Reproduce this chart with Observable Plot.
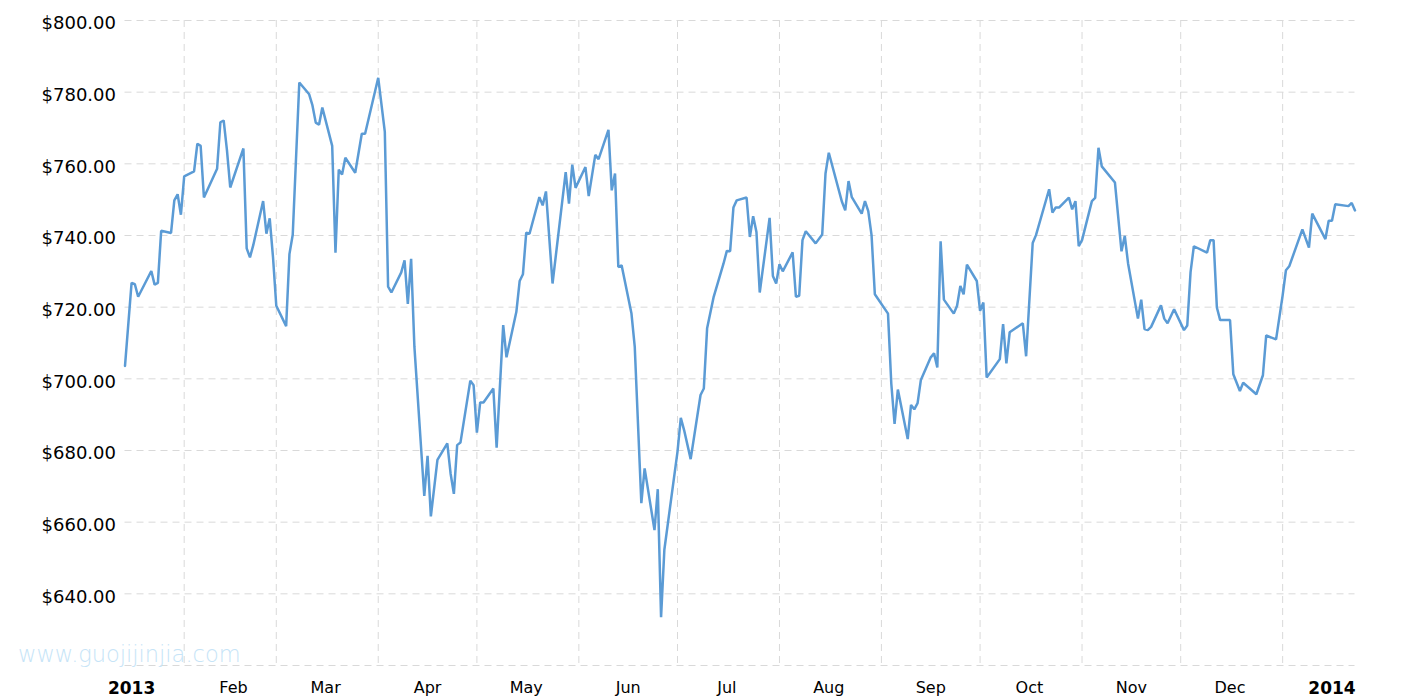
<!DOCTYPE html>
<html><head><meta charset="utf-8">
<script src="https://cdn.jsdelivr.net/npm/d3@7"></script>
<script src="https://cdn.jsdelivr.net/npm/@observablehq/plot@0.6"></script>
<style>html,body{margin:0;padding:0;background:#fff}#chart svg{display:block}</style>
</head><body><div id="chart"></div>
<script>
const dates = [
"2013-01-14","2013-01-16","2013-01-17","2013-01-18","2013-01-22","2013-01-23","2013-01-24","2013-01-25","2013-01-28","2013-01-29","2013-01-30","2013-01-31",
"2013-02-01","2013-02-04","2013-02-05","2013-02-06","2013-02-07","2013-02-11","2013-02-12","2013-02-13","2013-02-14","2013-02-15","2013-02-19","2013-02-20","2013-02-21","2013-02-22","2013-02-25","2013-02-26","2013-02-27","2013-02-28",
"2013-03-01","2013-03-04","2013-03-05","2013-03-06","2013-03-08","2013-03-11","2013-03-12","2013-03-13","2013-03-14","2013-03-15","2013-03-18","2013-03-19","2013-03-20","2013-03-21","2013-03-22","2013-03-25","2013-03-27","2013-03-28",
"2013-04-01","2013-04-03","2013-04-04","2013-04-05","2013-04-08","2013-04-09","2013-04-10","2013-04-11","2013-04-12","2013-04-15","2013-04-16","2013-04-17","2013-04-19","2013-04-22","2013-04-23","2013-04-24","2013-04-25","2013-04-26","2013-04-29","2013-04-30",
"2013-05-01","2013-05-02","2013-05-03","2013-05-06","2013-05-07","2013-05-09","2013-05-10","2013-05-13","2013-05-14","2013-05-15","2013-05-16","2013-05-17","2013-05-20","2013-05-21","2013-05-22","2013-05-24","2013-05-28","2013-05-29","2013-05-30","2013-05-31",
"2013-06-03","2013-06-04","2013-06-06","2013-06-07","2013-06-10","2013-06-11","2013-06-12","2013-06-13","2013-06-14","2013-06-17","2013-06-18","2013-06-20","2013-06-21","2013-06-24","2013-06-25","2013-06-26","2013-06-27",
"2013-07-01","2013-07-02","2013-07-03","2013-07-05","2013-07-08","2013-07-09","2013-07-10","2013-07-12","2013-07-15","2013-07-16","2013-07-17","2013-07-18","2013-07-19","2013-07-22","2013-07-23","2013-07-24","2013-07-25","2013-07-26","2013-07-29","2013-07-30","2013-07-31",
"2013-08-01","2013-08-02","2013-08-05","2013-08-06","2013-08-07","2013-08-08","2013-08-09","2013-08-12","2013-08-14","2013-08-15","2013-08-16","2013-08-20","2013-08-21","2013-08-22","2013-08-23","2013-08-26","2013-08-27","2013-08-28","2013-08-29","2013-08-30",
"2013-09-03","2013-09-04","2013-09-05","2013-09-06","2013-09-09","2013-09-10","2013-09-11","2013-09-12","2013-09-13","2013-09-16","2013-09-17","2013-09-18","2013-09-19","2013-09-20","2013-09-23","2013-09-24","2013-09-25","2013-09-26","2013-09-27","2013-09-30",
"2013-10-01","2013-10-02","2013-10-03","2013-10-07","2013-10-08","2013-10-09","2013-10-10","2013-10-14","2013-10-15","2013-10-17","2013-10-18","2013-10-22","2013-10-23","2013-10-24","2013-10-25","2013-10-28","2013-10-29","2013-10-30","2013-10-31",
"2013-11-01","2013-11-04","2013-11-05","2013-11-06","2013-11-07","2013-11-11","2013-11-13","2013-11-14","2013-11-15","2013-11-18","2013-11-19","2013-11-20","2013-11-21","2013-11-22","2013-11-25","2013-11-26","2013-11-27","2013-11-29",
"2013-12-02","2013-12-03","2013-12-04","2013-12-05","2013-12-09","2013-12-10","2013-12-11","2013-12-12","2013-12-13","2013-12-16","2013-12-17","2013-12-19","2013-12-20","2013-12-24","2013-12-26","2013-12-27","2013-12-30",
"2014-01-01","2014-01-02","2014-01-03","2014-01-07","2014-01-09","2014-01-10","2014-01-14","2014-01-15","2014-01-16","2014-01-17","2014-01-21","2014-01-22","2014-01-23"
];
const prices = [
703.6,726.8,726.4,722.9,730.1,726.3,726.8,741.3,740.7,749.8,751.5,745.8,
756.5,757.9,765.6,765.0,750.6,758.6,771.6,772.1,763.8,753.4,764.3,736.4,733.9,737.3,749.6,740.5,744.8,734.0,
720.4,714.7,734.8,740.2,782.7,779.4,776.3,771.5,770.9,775.7,765.0,735.2,758.4,757.0,761.7,757.5,768.4,768.4,
784.0,768.9,725.7,724.1,729.7,733.1,720.9,733.5,708.9,667.3,678.5,661.6,677.4,682.0,673.6,667.9,681.5,682.2,699.5,698.2,
685.0,693.4,693.4,697.3,680.8,715.0,706.0,718.7,727.3,729.2,740.8,740.5,750.7,748.4,752.3,726.6,757.7,748.9,759.8,753.3,
759.1,751.0,762.5,761.3,769.5,752.6,757.3,731.2,731.7,718.2,708.9,665.3,675.0,657.8,669.2,633.5,652.3,
679.7,689.1,685.7,677.6,695.5,697.3,714.1,722.9,732.2,735.7,735.6,747.8,749.8,750.6,739.6,745.4,741.0,724.1,744.9,728.7,726.6,
732.0,730.0,735.3,722.9,723.2,738.7,741.2,737.8,740.3,757.3,763.1,749.4,747.0,755.2,750.7,746.1,749.6,746.8,740.1,723.6,
718.2,698.7,687.4,697.0,683.2,692.7,691.5,693.2,699.7,706.0,707.1,703.2,738.4,722.1,718.2,720.4,725.9,723.6,731.9,727.3,
719.0,721.3,700.4,705.5,715.3,704.3,713.0,715.5,706.3,737.9,740.1,752.9,746.4,747.8,747.8,750.6,747.3,749.6,737.0,
738.7,749.6,750.5,764.5,759.3,754.8,735.6,739.9,732.2,716.8,722.1,713.9,713.6,714.5,720.5,716.8,715.5,719.4,
713.6,714.9,729.8,737.0,735.2,738.7,738.7,719.9,716.4,716.4,701.3,696.6,698.9,695.7,701.0,712.1,711.0,
723.3,730.3,731.4,741.7,736.6,746.1,739.0,744.1,744.1,748.7,748.2,749.1,747.0
];
const yTicks = [640, 660, 680, 700, 720, 740, 760, 780, 800];
const yGrid = [620, 640, 660, 680, 700, 720, 740, 760, 780, 800];
const monthStarts = ["2013-02-01","2013-03-01","2013-04-01","2013-05-01","2013-06-01","2013-07-01","2013-08-01","2013-09-01","2013-10-01","2013-11-01","2013-12-01","2014-01-01"];
const monthTickDates = ["2013-02-16","2013-03-16","2013-04-16","2013-05-16","2013-06-16","2013-07-16","2013-08-16","2013-09-16","2013-10-16","2013-11-16","2013-12-16"];
const monthLabels = ["Feb","Mar","Apr","May","Jun","Jul","Aug","Sep","Oct","Nov","Dec"];
const yearTickDates = ["2013-01-16","2014-01-16"];
const yearLabels = ["2013","2014"];
const watermark = "www.guojijinjia.com";

const parse = s => new Date(s + "T00:00:00Z");
const data = dates.map((d, i) => ({date: parse(d), price: prices[i]}));
const monthMap = new Map(monthTickDates.map((d, i) => [+parse(d), monthLabels[i]]));
const yearMap = new Map(yearTickDates.map((d, i) => [+parse(d), yearLabels[i]]));
const gridColor = "#d9d9d9";

const chart = Plot.plot({
  width: 1415,
  height: 700,
  marginLeft: 124.5,
  marginRight: 60.5,
  marginTop: 20,
  marginBottom: 35,
  style: {fontFamily: "'DejaVu Sans', Verdana, sans-serif", color: "#000", background: "#fff"},
  x: {type: "utc", domain: [parse("2013-01-14"), parse("2014-01-23")], axis: null},
  y: {domain: [620, 800], axis: null},
  marks: [
    Plot.gridY(yGrid, {stroke: gridColor, strokeOpacity: 1, strokeWidth: 1, strokeDasharray: "7,5"}),
    Plot.gridX(monthStarts.map(parse), {stroke: gridColor, strokeOpacity: 1, strokeWidth: 1, strokeDasharray: "7,5"}),
    Plot.axisY(yTicks, {tickSize: 0, tickPadding: 9, fontSize: 18, dy: 3, tickFormat: d => "$" + d.toFixed(2), label: null}),
    Plot.axisX(monthTickDates.map(parse), {tickSize: 0, tickPadding: 16, fontSize: 16, tickFormat: d => monthMap.get(+d), label: null}),
    Plot.axisX(yearTickDates.map(parse), {tickSize: 0, tickPadding: 16, fontSize: 17, fontWeight: "bold", tickFormat: d => yearMap.get(+d), label: null}),
    Plot.text([watermark], {frameAnchor: "bottom-left", dx: -107, dy: -4, text: d => d, textAnchor: "start", lineAnchor: "bottom", fontSize: 22.5, fontWeight: 200, fill: "#c6e4f7"}),
    Plot.line(data, {x: "date", y: "price", stroke: "#5b9bd5", strokeWidth: 2.5, strokeLinejoin: "miter"})
  ]
});
document.getElementById("chart").appendChild(chart);
</script>
</body></html>
